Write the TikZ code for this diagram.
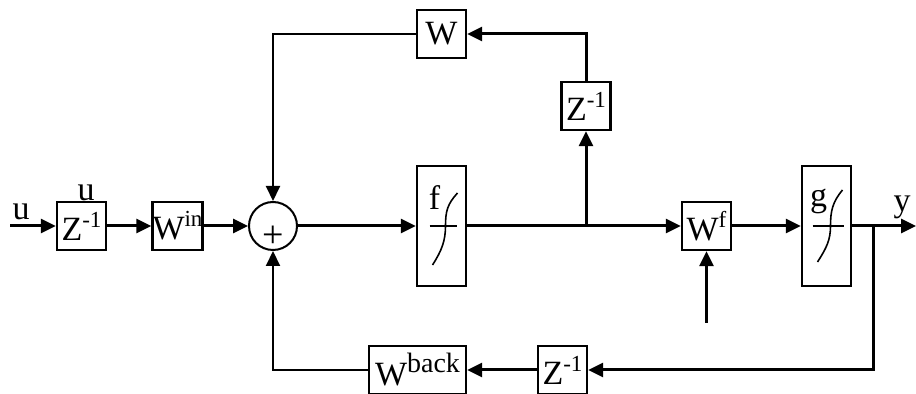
\documentclass[tikz,border=0pt]{standalone}
\usepackage{fontspec}
\setmainfont{Liberation Serif}
\usetikzlibrary{arrows.meta}

\newcommand\up[2][11.5]{\raisebox{6.5pt}{\fontsize{#1}{#1}\selectfont #2}}

\begin{document}
\begin{tikzpicture}[
  x=0.5pt, y=-0.5pt,
  font=\fontsize{17}{19}\selectfont,
  >={Triangle[length=7.5pt,width=7pt]},
  box/.style={draw, line width=1.2pt, inner sep=0pt, minimum width=24.5pt, minimum height=24pt},
  tall/.style={minimum height=60pt},
  sumc/.style={draw, circle, line width=1pt, minimum size=24pt, inner sep=0pt},
  ln/.style={line width=1.5pt},
  lnt/.style={line width=1pt},
  sig/.style={line width=0.8pt}
]
\useasboundingbox (0,0) rectangle (916,394);

\node[box] (z1) at (81.5,226) {Z\up{-1}};
\node[box] (win) at (177.5,226) {W\up{in}};
\node[sumc] (sum) at (273,226) {};
\node[font=\fontsize{19}{19}\selectfont] (plus) at ([yshift=-5.5pt]sum.center) {+};
\node[box, tall] (f) at (441.5,226) {};
\node[box] (zf) at (586,106) {Z\up{-1}};
\node[box] (w) at (441.5,34) {W};
\node[box] (wf) at (706.5,226) {W\up{f}};
\node[box, tall] (g) at (826.5,226) {};
\node[box] (zb) at (562.5,370) {Z\up{-1}};
\node[box, minimum width=48.5pt] (wback) at (417.5,370) {W\up[14]{back}};

% labels
\node[anchor=base] (ulab) at (21,220) {u};
\node[anchor=base] (uz) at (86,201) {u};
\node[anchor=base] (ylab) at (902,212) {y};

% activation curves
\begin{scope}[shift={(f.center)}]
  \draw[sig] (-12,0) -- (15,0);
  \draw[sig] (-9,39) .. controls (0,25) and (4,15) .. (4,0)
             .. controls (4,-15) and (6,-22) .. (16,-33);
  \node[anchor=base] (flab) at (-7,-16) {f};
\end{scope}
\begin{scope}[shift={(g.center)}]
  \draw[sig] (-14,0) -- (17,0);
  \draw[sig] (-9,36) .. controls (0,22) and (4,14) .. (4,0)
             .. controls (4,-15) and (6,-24) .. (16,-36);
  \node[anchor=base] (glab) at (-8,-19) {g};
\end{scope}

\coordinate (in) at (10,226);
\coordinate (out) at (916,226);
\coordinate (b1) at (zf |- sum);
\coordinate (b2) at (873,226);
\coordinate (wfin) at (706.5,323);

\draw[->, ln] (in) -- (z1);
\draw[->, ln] (z1) -- (win);
\draw[->, ln] (win) -- (sum);
\draw[->, ln] (sum) -- (f);
\draw[->, ln] (f) -- (wf);
\draw[->, ln] (wf) -- (g);
\draw[->, ln] (g) -- (out);
\draw[->, ln] (b1) -- (zf);
\draw[->, ln] (zf.north) |- (w.east);
\draw[->, lnt] (w.west) -| (sum.north);
\draw[->, ln] (wfin) -- (wf.south);
\draw[->, ln] (b2) |- (zb.east);
\draw[->, ln] (zb) -- (wback);
\draw[->, lnt] (wback.west) -| (sum.south);
\end{tikzpicture}
\end{document}
